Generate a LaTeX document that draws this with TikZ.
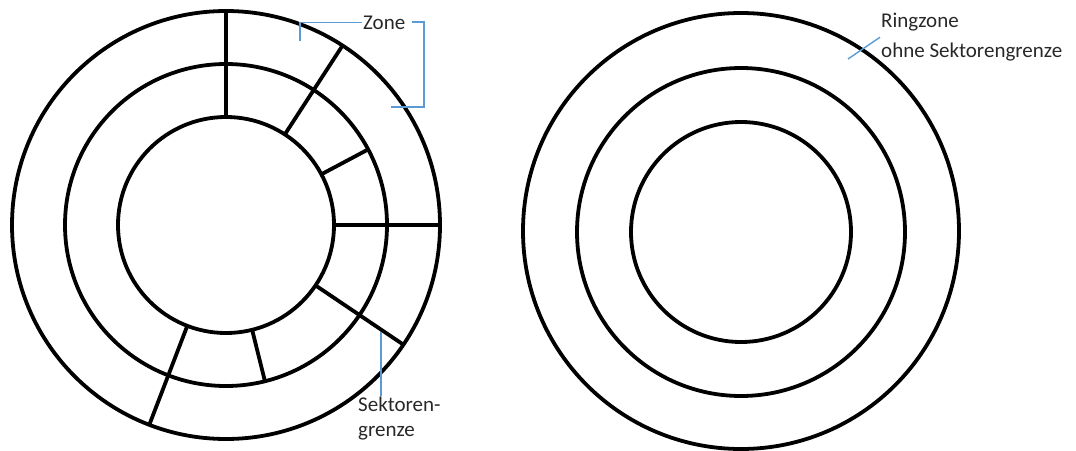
\documentclass[tikz,border=0pt]{standalone}
\usepackage{fontspec}
\setmainfont{Carlito}
\definecolor{lineblue}{RGB}{91,155,213}
\definecolor{txt}{RGB}{40,40,40}
\begin{document}
\begin{tikzpicture}[x=1pt,y=-1pt,
  ring/.style={draw=black, line width=3.8pt, circle, inner sep=0pt, outer sep=0pt},
  sektor/.style={draw=black, line width=3.8pt},
  callout/.style={draw=lineblue, line width=1.4pt},
  lbl/.style={text=txt, font=\fontsize{21}{25}\selectfont, inner sep=1pt, align=left}]
\useasboundingbox (0,0) rectangle (1076,450);
% left disc
\node[ring, minimum size=428pt] (LO) at (226,225) {};
\node[ring, minimum size=322pt] (LM) at (226,225) {};
\node[ring, minimum size=216pt] (LI) at (226,225) {};
% sector borders
\draw[sektor] (LO.90) -- (LI.90);
\draw[sektor] (LO.57) -- (LI.57);
\draw[sektor] (LM.28) -- (LI.28);
\draw[sektor] (LO.0) -- (LI.0);
\draw[sektor] (LO.-34) -- (LI.-34);
\draw[sektor] (LM.-76.5) -- (LI.-76.5);
\draw[sektor] (LO.-111) -- (LI.-111);
% right disc
\node[ring, minimum size=436pt] (RO) at (741,231) {};
\node[ring, minimum size=328pt] (RM) at (741,232) {};
\node[ring, minimum size=220pt] (RI) at (741,232) {};
% labels
\node[lbl, anchor=base west] (zone) at (362,29) {Zone};
\coordinate (zA) at (300,41);
\coordinate (zB) at (412,22);
\coordinate (zC) at (424,107);
\coordinate (zD) at (391,107);
\draw[callout] (zA) |- (zone.west);
\draw[callout] (zB) -| (zC) -- (zD);
\node[lbl, anchor=north west] (sek) at (357,396) {Sektoren-\\grenze};
\coordinate (sA) at (381,332);
\draw[callout] (sA) -- (sA |- sek.north);
\node[lbl, anchor=north west, font=\fontsize{21}{30}\selectfont] (ringz) at (880,12) {Ringzone\\ohne Sektorengrenze};
\coordinate (rA) at (848,59);
\draw[callout] (rA) -- (ringz.west);
\end{tikzpicture}
\end{document}
